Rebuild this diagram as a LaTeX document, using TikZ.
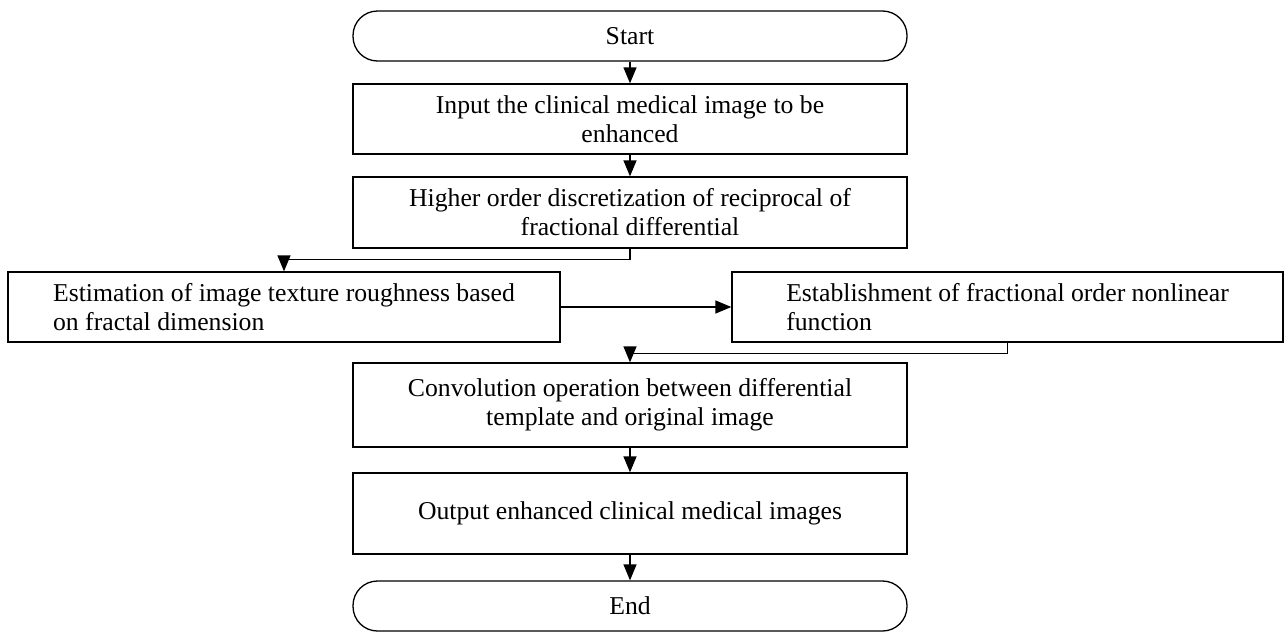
\documentclass[tikz,border=0pt]{standalone}
\usepackage{fontspec}
\setmainfont{Liberation Serif}
\usetikzlibrary{arrows.meta,positioning}

\tikzset{
  box/.style={draw, line width=1.3pt, minimum width=554pt, minimum height=70pt,
    align=center, inner sep=0pt, font=\fontsize{25.7}{29}\selectfont},
  term/.style={box, minimum height=50pt, rounded corners=24.5pt},
  flow/.style={line width=1.3pt, -{Triangle[length=16pt,width=13pt]}}
}

\begin{document}
\begin{tikzpicture}[x=1pt, y=-1pt]
        \useasboundingbox (0,0) rectangle (1284,635);

        \node[term] (S) at (630,36) {Start};
        \node[box] (In) at (630,119) {Input the clinical medical image to be\\enhanced};
        \node[box, minimum height=71pt] (Disc) at (630,212.5) {Higher order discretization of reciprocal of\\fractional differential};
        \node[box, minimum width=552pt, align=left] (Rough) at (284,307) {Estimation of image texture roughness based\\on fractal dimension};
        \node[box, minimum width=551pt, align=left] (Fun) at (1007.5,307) {Establishment of fractional order nonlinear\\function};
        \node[box, minimum height=84pt] (Conv) at (630,405) {Convolution operation between differential\\template and original image};
        \node[box, minimum height=81pt] (Out) at (630,513.5) {Output enhanced clinical medical images};
        \node[term] (E) at (630,606) {End};

        \draw[flow] (S) to (In);
        \draw[flow] (In) to (Disc);
        \draw[flow] (Disc.south) -- ++(0,11) -| (Rough.north);
        \draw[flow] (Rough) to (Fun);
        \draw[flow] (Fun.south) -- ++(0,11) -| (Conv.north);
        \draw[flow] (Conv) to (Out);
        \draw[flow] (Out) to (E);
      \end{tikzpicture}
\end{document}
